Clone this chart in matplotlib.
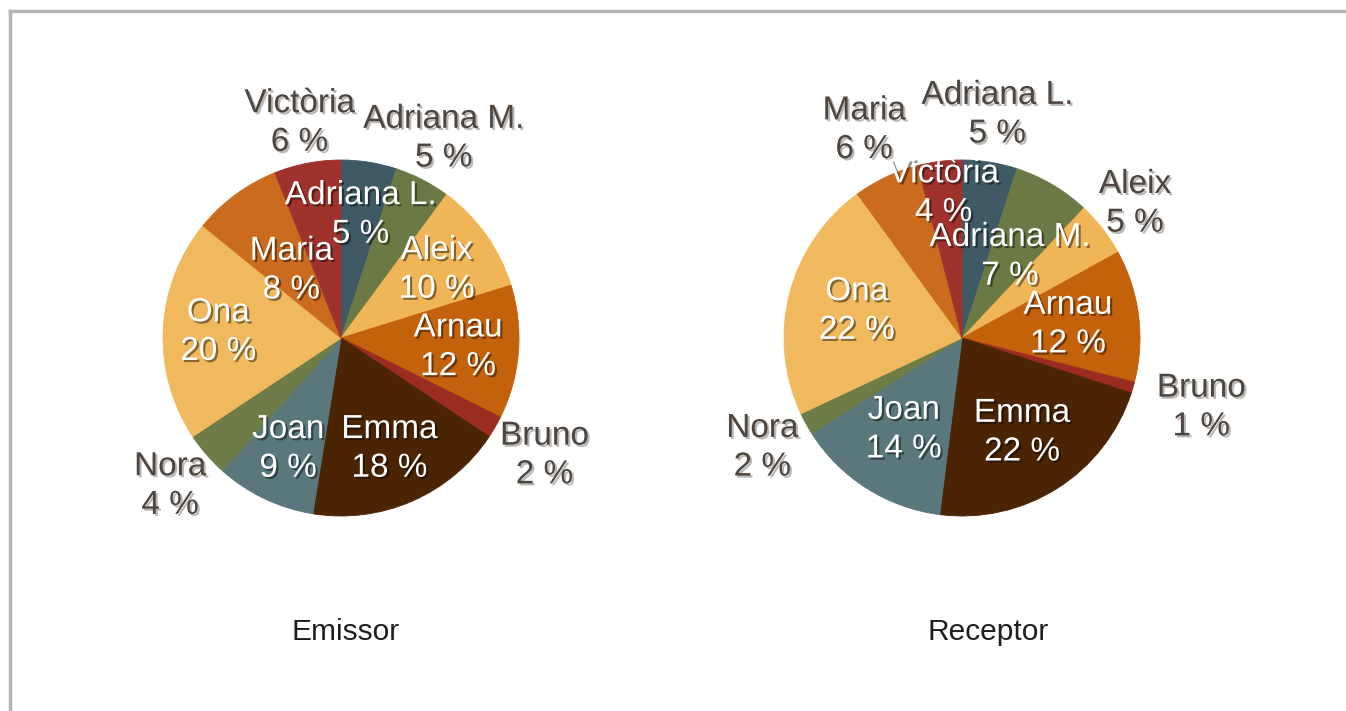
import matplotlib
matplotlib.use("Agg")
import matplotlib.pyplot as plt
import matplotlib.patheffects as pe
from matplotlib.lines import Line2D
import numpy as np

plt.rcParams['font.family'] = ['Liberation Sans', 'DejaVu Sans']

# ---- data ----
names = ["Adriana L.", "Adriana M.", "Aleix", "Arnau", "Bruno", "Emma",
         "Joan", "Nora", "Ona", "Maria", "Victòria"]
emissor = [5, 5, 10, 12, 2, 18, 9, 4, 20, 8, 6]
receptor = [5, 7, 5, 12, 1, 22, 14, 2, 22, 6, 4]
titles = ["Emissor", "Receptor"]

colors = ["#3f5965", "#6b7a44", "#f0b556", "#c4610b", "#9c2b22", "#4b2503",
          "#5a777c", "#6e7d48", "#f0b95e", "#cb6b1e", "#a0322d"]

# label radial distance (fraction of radius) per slice
emissor_lr = [0.70, 1.26, 0.66, 0.66, 1.32, 0.68, 0.69, 1.27, 0.69, 0.47, 1.23]
receptor_lr = [1.27, 0.53, 1.23, 0.60, 1.40, 0.63, 0.61, 1.28, 0.61, 1.29, 0.82]

W, H = 1346, 711
fig = plt.figure(figsize=(W / 100, H / 100), dpi=100)
ax = fig.add_axes([0, 0, 1, 1])

# frame lines (top and left)
fig.add_artist(Line2D([10 / W, 1.0], [1 - 11 / H, 1 - 11 / H], color="#b5b5b5", lw=2.5,
                      transform=fig.transFigure))
fig.add_artist(Line2D([10 / W, 10 / W], [0, 1 - 11 / H], color="#b5b5b5", lw=2.5,
                      transform=fig.transFigure))

R = 178
centers = [(341, H - 338), (962, H - 338)]
title_pos = [(346, H - 632), (988, H - 632)]

inside_fx = [pe.SimplePatchShadow(offset=(1.5, -1.5), shadow_rgbFace="#000000", alpha=0.45),
             pe.Normal()]
outside_fx = [pe.SimplePatchShadow(offset=(1.5, -1.5), shadow_rgbFace="#000000", alpha=0.28),
              pe.Normal()]

for vals, lr, c, (tx, ty), title in zip([emissor, receptor], [emissor_lr, receptor_lr],
                                         centers, title_pos, titles):
    wedges, _ = ax.pie(vals, colors=colors, startangle=90, counterclock=False,
                       center=c, radius=R,
                       wedgeprops=dict(linewidth=0.6),
                       frame=True)
    for w, col in zip(wedges, colors):
        w.set_edgecolor(col)
    for w, name, v, d in zip(wedges, names, vals, lr):
        ang = np.deg2rad((w.theta1 + w.theta2) / 2)
        x = c[0] + d * R * np.cos(ang)
        y = c[1] + d * R * np.sin(ang)
        inside = d < 1.0
        ax.text(x, y, f"{name}\n{v} %", ha="center", va="center",
                fontsize=24, linespacing=1.32,
                color="white" if inside else "#4d453e",
                path_effects=inside_fx if inside else outside_fx, zorder=5)
    ax.text(tx, ty, title, ha="center", va="center", fontsize=21.5, color="#1e1e1e")

ax.set_xlim(0, W)
ax.set_ylim(0, H)
ax.set_aspect('equal')
ax.axis('off')

fig.savefig("out.png", dpi=100, facecolor="white")
